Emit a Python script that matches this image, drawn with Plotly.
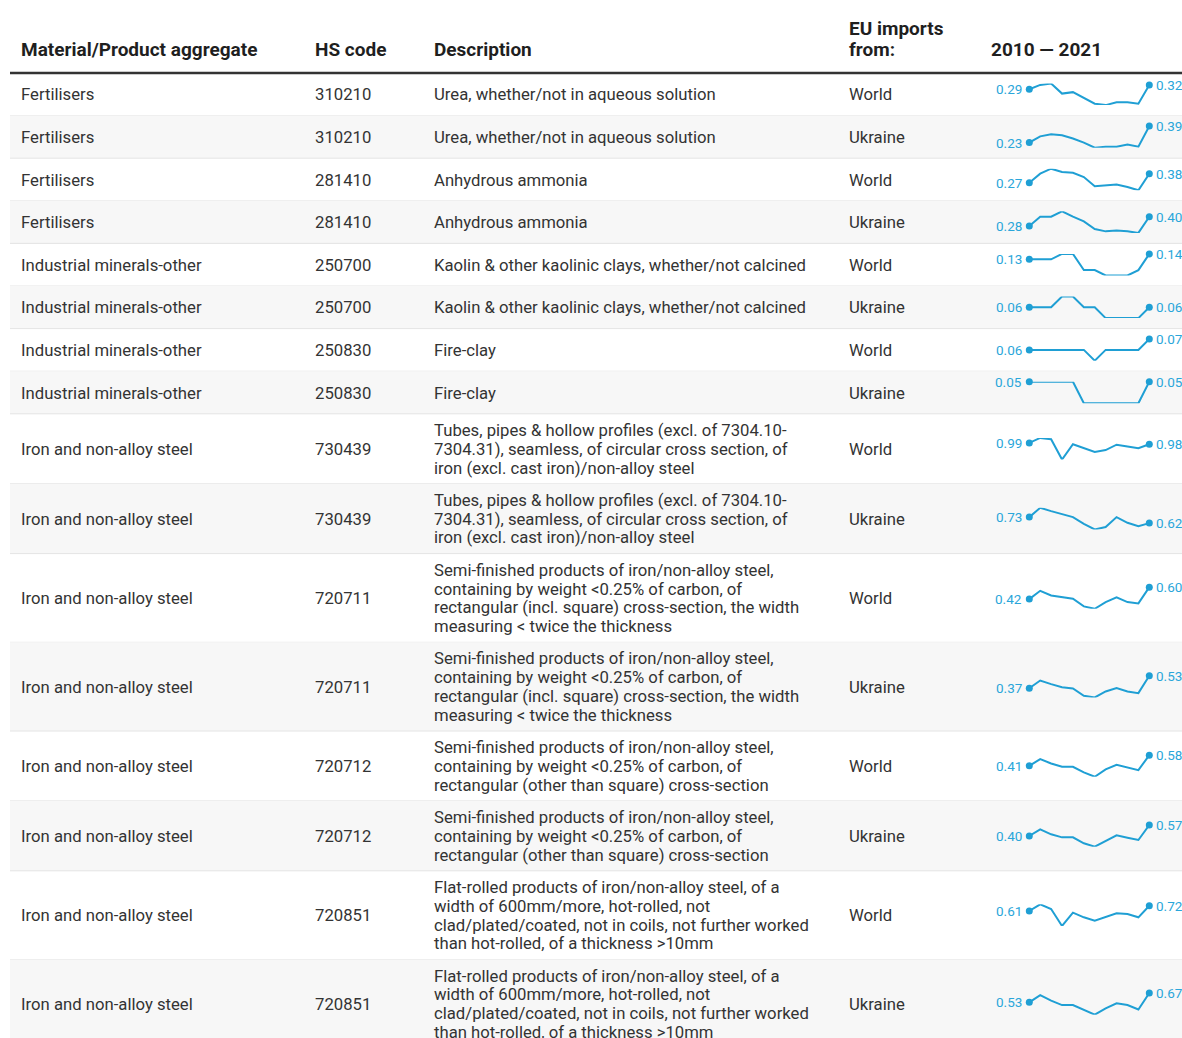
import plotly.graph_objects as go

W, H = 1182, 1038

materials = [
    "Fertilisers", "Fertilisers", "Fertilisers", "Fertilisers",
    "Industrial minerals-other", "Industrial minerals-other",
    "Industrial minerals-other", "Industrial minerals-other",
    "Iron and non-alloy steel", "Iron and non-alloy steel",
    "Iron and non-alloy steel", "Iron and non-alloy steel",
    "Iron and non-alloy steel", "Iron and non-alloy steel",
    "Iron and non-alloy steel", "Iron and non-alloy steel",
]
hs_codes = [
    "310210", "310210", "281410", "281410", "250700", "250700", "250830", "250830",
    "730439", "730439", "720711", "720711", "720712", "720712", "720851", "720851",
]
desc_tubes = ("Tubes, pipes & hollow profiles (excl. of 7304.10-\n"
              "7304.31), seamless, of circular cross section, of\n"
              "iron (excl. cast iron)/non-alloy steel")
desc_semi_sq = ("Semi-finished products of iron/non-alloy steel,\n"
                "containing by weight <0.25% of carbon, of\n"
                "rectangular (incl. square) cross-section, the width\n"
                "measuring < twice the thickness")
desc_semi_rect = ("Semi-finished products of iron/non-alloy steel,\n"
                  "containing by weight <0.25% of carbon, of\n"
                  "rectangular (other than square) cross-section")
desc_flat = ("Flat-rolled products of iron/non-alloy steel, of a\n"
             "width of 600mm/more, hot-rolled, not\n"
             "clad/plated/coated, not in coils, not further worked\n"
             "than hot-rolled, of a thickness >10mm")
descriptions = [
    "Urea, whether/not in aqueous solution", "Urea, whether/not in aqueous solution",
    "Anhydrous ammonia", "Anhydrous ammonia",
    "Kaolin & other kaolinic clays, whether/not calcined",
    "Kaolin & other kaolinic clays, whether/not calcined",
    "Fire-clay", "Fire-clay",
    desc_tubes, desc_tubes, desc_semi_sq, desc_semi_sq,
    desc_semi_rect, desc_semi_rect, desc_flat, desc_flat,
]
sources = ["World", "Ukraine"] * 8

years = list(range(2010, 2022))
series_values = [
    [0.29, 0.32, 0.33, 0.26, 0.27, 0.23, 0.19, 0.18, 0.20, 0.20, 0.19, 0.32],
    [0.23, 0.29, 0.31, 0.30, 0.27, 0.23, 0.18, 0.19, 0.19, 0.21, 0.19, 0.39],
    [0.27, 0.38, 0.44, 0.40, 0.39, 0.34, 0.23, 0.24, 0.25, 0.22, 0.18, 0.38],
    [0.28, 0.40, 0.40, 0.47, 0.40, 0.34, 0.24, 0.21, 0.22, 0.21, 0.19, 0.40],
    [0.13, 0.13, 0.13, 0.14, 0.14, 0.11, 0.11, 0.10, 0.10, 0.10, 0.11, 0.14],
    [0.06, 0.06, 0.06, 0.07, 0.07, 0.06, 0.06, 0.05, 0.05, 0.05, 0.05, 0.06],
    [0.06, 0.06, 0.06, 0.06, 0.06, 0.06, 0.05, 0.06, 0.06, 0.06, 0.06, 0.07],
    [0.05, 0.05, 0.05, 0.05, 0.05, 0.04, 0.04, 0.04, 0.04, 0.04, 0.04, 0.05],
    [0.987, 0.998, 0.995, 0.950, 0.984, 0.975, 0.967, 0.971, 0.983, 0.979, 0.975, 0.984],
    [0.73, 0.90, 0.84, 0.785, 0.73, 0.608, 0.504, 0.547, 0.73, 0.626, 0.565, 0.62],
    [0.42, 0.545, 0.475, 0.445, 0.425, 0.31, 0.275, 0.375, 0.445, 0.375, 0.355, 0.60],
    [0.37, 0.469, 0.422, 0.383, 0.366, 0.271, 0.249, 0.327, 0.37, 0.327, 0.305, 0.53],
    [0.41, 0.516, 0.447, 0.394, 0.394, 0.304, 0.235, 0.352, 0.426, 0.378, 0.341, 0.58],
    [0.40, 0.503, 0.426, 0.379, 0.379, 0.287, 0.235, 0.323, 0.41, 0.374, 0.338, 0.57],
    [0.61, 0.748, 0.651, 0.30, 0.576, 0.479, 0.41, 0.479, 0.562, 0.548, 0.479, 0.72],
    [0.53, 0.639, 0.556, 0.488, 0.488, 0.411, 0.343, 0.437, 0.514, 0.488, 0.421, 0.67],
]

headers = ["Material/Product aggregate", "HS code", "Description", "EU imports\nfrom:", "2010 — 2021"]
col_x = [21, 315, 434, 849, 991]

TEXT = "#333333"
HEAD = "#1f1f1f"
SPARK = "#1f9fd4"
LABEL = "#2aa6da"
FONT = "Roboto"


def px_x(v):
    return v / W


def px_y(v):
    return 1 - v / H


# row layout
line_h = 18.8
tops, heights = [], []
y = 73
for d in descriptions:
    n = len(d.split("\n"))
    h = max(42.6, 13.5 + line_h * n)
    tops.append(y)
    heights.append(h)
    y += h

fig = go.Figure()
shapes, annotations = [], []

for i, (top, h) in enumerate(zip(tops, heights)):
    if i % 2 == 1:
        shapes.append(dict(type="rect", xref="paper", yref="paper", layer="below",
                           x0=px_x(10), x1=1, y0=px_y(top + h), y1=px_y(top),
                           fillcolor="#f7f7f7", line=dict(width=0)))
    shapes.append(dict(type="line", xref="paper", yref="paper", layer="below",
                       x0=px_x(10), x1=1, y0=px_y(top + h), y1=px_y(top + h),
                       line=dict(color="#e4e4e4", width=1)))

shapes.append(dict(type="line", xref="paper", yref="paper",
                   x0=px_x(10), x1=1, y0=px_y(73), y1=px_y(73),
                   line=dict(color="#333333", width=2.5)))

# header
for text, x in zip(headers, col_x):
    hl = text.split("\n")
    for j, ln in enumerate(hl):
        hy = 50 - (len(hl) - 1 - j) * 22
        annotations.append(dict(text=f"<b>{ln}</b>", xref="paper", yref="paper",
                                x=px_x(x), y=px_y(hy), xanchor="left", yanchor="middle",
                                xshift=-2, showarrow=False,
                                font=dict(family=FONT, size=19, color=HEAD)))

# cells
for i, (top, h) in enumerate(zip(tops, heights)):
    c = top + h / 2
    for text, x in [(materials[i], col_x[0]), (hs_codes[i], col_x[1]), (sources[i], col_x[3])]:
        annotations.append(dict(text=text, xref="paper", yref="paper", x=px_x(x), y=px_y(c + 0.5),
                                xanchor="left", yanchor="middle", xshift=-2, showarrow=False,
                                font=dict(family=FONT, size=16.7, color=TEXT)))
    lines = descriptions[i].split("\n")
    n = len(lines)
    for j, ln in enumerate(lines):
        ly = c + 0.5 + (j - (n - 1) / 2) * line_h
        annotations.append(dict(text=ln, xref="paper", yref="paper", x=px_x(col_x[2]), y=px_y(ly),
                                xanchor="left", yanchor="middle", xshift=-2, showarrow=False,
                                font=dict(family=FONT, size=16.7, color=TEXT)))

# sparklines
layout_axes = {}
half = 10.8
for i, vals in enumerate(series_values):
    c = tops[i] + heights[i] / 2
    yname = "y" if i == 0 else f"y{i + 1}"
    lname = "yaxis" if i == 0 else f"yaxis{i + 1}"
    layout_axes[lname] = dict(domain=[px_y(c + half), px_y(c - half)], range=[min(vals), max(vals)],
                              visible=False, fixedrange=True, anchor="x")
    fig.add_trace(go.Scatter(x=years, y=vals, xaxis="x", yaxis=yname, mode="lines",
                             line=dict(color=SPARK, width=2), cliponaxis=False,
                             hoverinfo="skip", showlegend=False))
    fig.add_trace(go.Scatter(x=[years[0], years[-1]], y=[vals[0], vals[-1]], xaxis="x", yaxis=yname,
                             mode="markers", marker=dict(color=SPARK, size=7), cliponaxis=False,
                             hoverinfo="skip", showlegend=False))
    annotations.append(dict(text=f"{vals[0]:.2f}", xref="x", yref=yname, x=years[0], y=vals[0],
                            xanchor="right", yanchor="middle", xshift=-5, showarrow=False,
                            font=dict(family=FONT, size=13.5, color=LABEL)))
    annotations.append(dict(text=f"{vals[-1]:.2f}", xref="x", yref=yname, x=years[-1], y=vals[-1],
                            xanchor="left", yanchor="middle", xshift=5, showarrow=False,
                            font=dict(family=FONT, size=13.5, color=LABEL)))

fig.update_layout(
    width=W, height=H,
    margin=dict(l=0, r=0, t=0, b=0),
    paper_bgcolor="white", plot_bgcolor="rgba(0,0,0,0)",
    xaxis=dict(domain=[px_x(1029.3), px_x(1149.3)], range=[2010, 2021], visible=False,
               fixedrange=True, anchor="y"),
    shapes=shapes, annotations=annotations,
    showlegend=False,
    **layout_axes,
)

fig.write_html("out.html", config={"displayModeBar": False},
               post_script="document.body.style.margin='0';document.body.style.overflow='hidden';")
